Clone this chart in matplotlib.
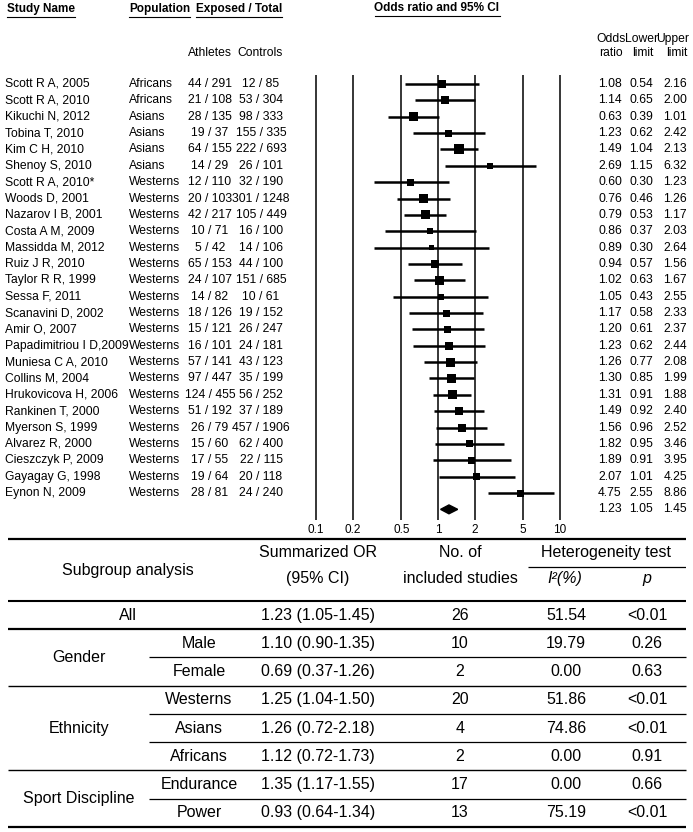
import matplotlib
matplotlib.use("Agg")
import matplotlib.pyplot as plt
from matplotlib.transforms import blended_transform_factory
from matplotlib.lines import Line2D
from matplotlib.patches import Polygon

plt.rcParams['font.family'] = ['Liberation Sans', 'DejaVu Sans']

W, H = 693, 832

# Study level data
studies = ["Scott R A, 2005", "Scott R A, 2010", "Kikuchi N, 2012", "Tobina T, 2010",
           "Kim C H, 2010", "Shenoy S, 2010", "Scott R A, 2010*", "Woods D, 2001",
           "Nazarov I B, 2001", "Costa A M, 2009", "Massidda M, 2012", "Ruiz J R, 2010",
           "Taylor R R, 1999", "Sessa F, 2011", "Scanavini D, 2002", "Amir O, 2007",
           "Papadimitriou I D,2009", "Muniesa C A, 2010", "Collins M, 2004",
           "Hrukovicova H, 2006", "Rankinen T, 2000", "Myerson S, 1999", "Alvarez R, 2000",
           "Cieszczyk P, 2009", "Gayagay G, 1998", "Eynon N, 2009"]
populations = ["Africans", "Africans", "Asians", "Asians", "Asians", "Asians"] + ["Westerns"] * 20
athletes = ["44 / 291", "21 / 108", "28 / 135", "19 / 37", "64 / 155", "14 / 29", "12 / 110",
            "20 / 103", "42 / 217", "10 / 71", "5 / 42", "65 / 153", "24 / 107", "14 / 82",
            "18 / 126", "15 / 121", "16 / 101", "57 / 141", "97 / 447", "124 / 455",
            "51 / 192", "26 / 79", "15 / 60", "17 / 55", "19 / 64", "28 / 81"]
controls = ["12 / 85", "53 / 304", "98 / 333", "155 / 335", "222 / 693", "26 / 101", "32 / 190",
            "301 / 1248", "105 / 449", "16 / 100", "14 / 106", "44 / 100", "151 / 685", "10 / 61",
            "19 / 152", "26 / 247", "24 / 181", "43 / 123", "35 / 199", "56 / 252",
            "37 / 189", "457 / 1906", "62 / 400", "22 / 115", "20 / 118", "24 / 240"]
odds_ratio = [1.08, 1.14, 0.63, 1.23, 1.49, 2.69, 0.60, 0.76, 0.79, 0.86, 0.89, 0.94, 1.02,
              1.05, 1.17, 1.20, 1.23, 1.26, 1.30, 1.31, 1.49, 1.56, 1.82, 1.89, 2.07, 4.75]
lower = [0.54, 0.65, 0.39, 0.62, 1.04, 1.15, 0.30, 0.46, 0.53, 0.37, 0.30, 0.57, 0.63,
         0.43, 0.58, 0.61, 0.62, 0.77, 0.85, 0.91, 0.92, 0.96, 0.95, 0.91, 1.01, 2.55]
upper = [2.16, 2.00, 1.01, 2.42, 2.13, 6.32, 1.23, 1.26, 1.17, 2.03, 2.64, 1.56, 1.67,
         2.55, 2.33, 2.37, 2.44, 2.08, 1.99, 1.88, 2.40, 2.52, 3.46, 3.95, 4.25, 8.86]
# relative study weight (square size)
weights = [8, 8, 9, 7, 10, 6, 7, 9, 9, 6, 5, 8, 9, 6, 7, 7, 8, 9, 9, 9, 8, 8, 7, 7, 7, 7]

pooled_or, pooled_lo, pooled_hi = 1.23, 1.05, 1.45
ticks = [0.1, 0.2, 0.5, 1, 2, 5, 10]
tick_labels = ["0.1", "0.2", "0.5", "1", "2", "5", "10"]

# Subgroup table data
group = ["All", "Gender", "Gender", "Ethnicity", "Ethnicity", "Ethnicity",
         "Sport Discipline", "Sport Discipline"]
subgroup = ["", "Male", "Female", "Westerns", "Asians", "Africans", "Endurance", "Power"]
summ_or = ["1.23 (1.05-1.45)", "1.10 (0.90-1.35)", "0.69 (0.37-1.26)", "1.25 (1.04-1.50)",
           "1.26 (0.72-2.18)", "1.12 (0.72-1.73)", "1.35 (1.17-1.55)", "0.93 (0.64-1.34)"]
n_studies = [26, 10, 2, 20, 4, 2, 17, 13]
i2 = ["51.54", "19.79", "0.00", "51.86", "74.86", "0.00", "0.00", "75.19"]
p_val = ["<0.01", "0.26", "0.63", "<0.01", "<0.01", "0.91", "0.66", "<0.01"]


def px(x):
    return x / W


def py(y):
    return 1 - y / H


fig = plt.figure(figsize=(W / 100, H / 100), dpi=100)

# ---- forest plot ----
ax = fig.add_axes([px(306), py(520), (570 - 306) / W, (520 - 75) / H])
ax.set_xscale("log")
pad = 10 / 122
ax.set_xlim(10 ** (-1 - pad), 10 ** (1 + pad))
ax.set_ylim(26.65, -0.55)
for s in ax.spines.values():
    s.set_visible(False)
for t in ticks:
    ax.axvline(t, color="black", lw=1.1, zorder=1)
ax.set_xticks(ticks)
ax.set_xticklabels(tick_labels, fontsize=8.5)
ax.minorticks_off()
ax.tick_params(axis="x", length=0, pad=3)
ax.set_yticks([])
ax.patch.set_alpha(0)

rows = list(range(len(studies)))
ax.hlines(rows, lower, upper, color="black", lw=1.8, zorder=2)
ax.scatter(odds_ratio, rows, s=[(w * 0.72) ** 2 for w in weights], marker="s",
           color="black", zorder=3, linewidths=0)
sr = len(studies)
diamond = Polygon([(pooled_lo, sr), (pooled_or, sr - 0.27), (pooled_hi, sr), (pooled_or, sr + 0.27)],
                  closed=True, color="black", zorder=3)
ax.add_patch(diamond)

trans = blended_transform_factory(fig.transFigure, ax.transData)
fs = 8.7
for i in rows:
    fig.text(px(5), i, studies[i], transform=trans, va="center", fontsize=fs)
    fig.text(px(129), i, populations[i], transform=trans, va="center", fontsize=fs)
    fig.text(px(210), i, athletes[i], transform=trans, va="center", ha="center", fontsize=fs)
    fig.text(px(261), i, controls[i], transform=trans, va="center", ha="center", fontsize=fs)
    fig.text(px(610), i, f"{odds_ratio[i]:.2f}", transform=trans, va="center", ha="center", fontsize=fs)
    fig.text(px(641), i, f"{lower[i]:.2f}", transform=trans, va="center", ha="center", fontsize=fs)
    fig.text(px(675), i, f"{upper[i]:.2f}", transform=trans, va="center", ha="center", fontsize=fs)
fig.text(px(610), sr, f"{pooled_or:.2f}", transform=trans, va="center", ha="center", fontsize=fs)
fig.text(px(641), sr, f"{pooled_lo:.2f}", transform=trans, va="center", ha="center", fontsize=fs)
fig.text(px(675), sr, f"{pooled_hi:.2f}", transform=trans, va="center", ha="center", fontsize=fs)

# headers
headers = [
    fig.text(px(7), py(9), "Study Name", fontsize=8.5, weight="bold", va="center"),
    fig.text(px(129), py(9), "Population", fontsize=8.5, weight="bold", va="center"),
    fig.text(px(196), py(9), "Exposed / Total", fontsize=8.5, weight="bold", va="center"),
    fig.text(px(437), py(8), "Odds ratio and 95% CI", fontsize=8.5, weight="bold",
             va="center", ha="center"),
]
fig.text(px(210), py(53), "Athletes", fontsize=fs, ha="center", va="center")
fig.text(px(260), py(53), "Controls", fontsize=fs, ha="center", va="center")
fig.text(px(611), py(39), "Odds", fontsize=fs, ha="center", va="center")
fig.text(px(642), py(39), "Lower", fontsize=fs, ha="center", va="center")
fig.text(px(673), py(39), "Upper", fontsize=fs, ha="center", va="center")
fig.text(px(611), py(53), "ratio", fontsize=fs, ha="center", va="center")
fig.text(px(643), py(53), "limit", fontsize=fs, ha="center", va="center")
fig.text(px(677), py(53), "limit", fontsize=fs, ha="center", va="center")

fig.canvas.draw()
renderer = fig.canvas.get_renderer()
for t in headers:
    bb = t.get_window_extent(renderer)
    yl = (bb.y0 - 1.5) / fig.bbox.height
    fig.add_artist(Line2D([bb.x0 / fig.bbox.width, bb.x1 / fig.bbox.width], [yl, yl],
                          transform=fig.transFigure, color="black", lw=0.8))

# ---- subgroup table ----
top = -2.19
tax = fig.add_axes([px(8), py(827), (686 - 8) / W, (827 - 539) / H])
tax.set_xlim(8, 686)
tax.set_ylim(len(group), top)
tax.axis("off")

tfs = 11.5
for yl, lw in [(top, 1.6), (0, 1.5), (1, 1.6), (3, 1.0), (6, 1.0), (len(group), 1.6)]:
    tax.hlines(yl, 8, 686, color="black", lw=lw, clip_on=False)
for yl in [2, 4, 5, 7]:
    tax.hlines(yl, 149, 686, color="black", lw=0.9, clip_on=False)
tax.hlines(-1.2, 528, 686, color="black", lw=0.9)

tax.text(128, -1.06, "Subgroup analysis", ha="center", va="center", fontsize=tfs)
tax.text(318, -1.73, "Summarized OR", ha="center", va="center", fontsize=tfs)
tax.text(318, -0.81, "(95% CI)", ha="center", va="center", fontsize=tfs)
tax.text(460, -1.73, "No. of", ha="center", va="center", fontsize=tfs)
tax.text(460, -0.81, "included studies", ha="center", va="center", fontsize=tfs)
tax.text(606, -1.73, "Heterogeneity test", ha="center", va="center", fontsize=tfs)
tax.text(565, -0.81, "I²(%)", ha="center", va="center", fontsize=tfs, style="italic")
tax.text(647, -0.81, "p", ha="center", va="center", fontsize=tfs, style="italic")

for k in range(len(group)):
    y = k + 0.5
    if group[k] == "All":
        tax.text(128, y, group[k], ha="center", va="center", fontsize=tfs)
    else:
        tax.text(199, y, subgroup[k], ha="center", va="center", fontsize=tfs)
    tax.text(318, y, summ_or[k], ha="center", va="center", fontsize=tfs)
    tax.text(460, y, str(n_studies[k]), ha="center", va="center", fontsize=tfs)
    tax.text(566, y, i2[k], ha="center", va="center", fontsize=tfs)
    tax.text(647, y, p_val[k], ha="center", va="center", fontsize=tfs)

for g in ["Gender", "Ethnicity", "Sport Discipline"]:
    ks = [k for k in range(len(group)) if group[k] == g]
    tax.text(79, (min(ks) + max(ks) + 1) / 2, g, ha="center", va="center", fontsize=tfs)

fig.savefig("out.png", dpi=100)
